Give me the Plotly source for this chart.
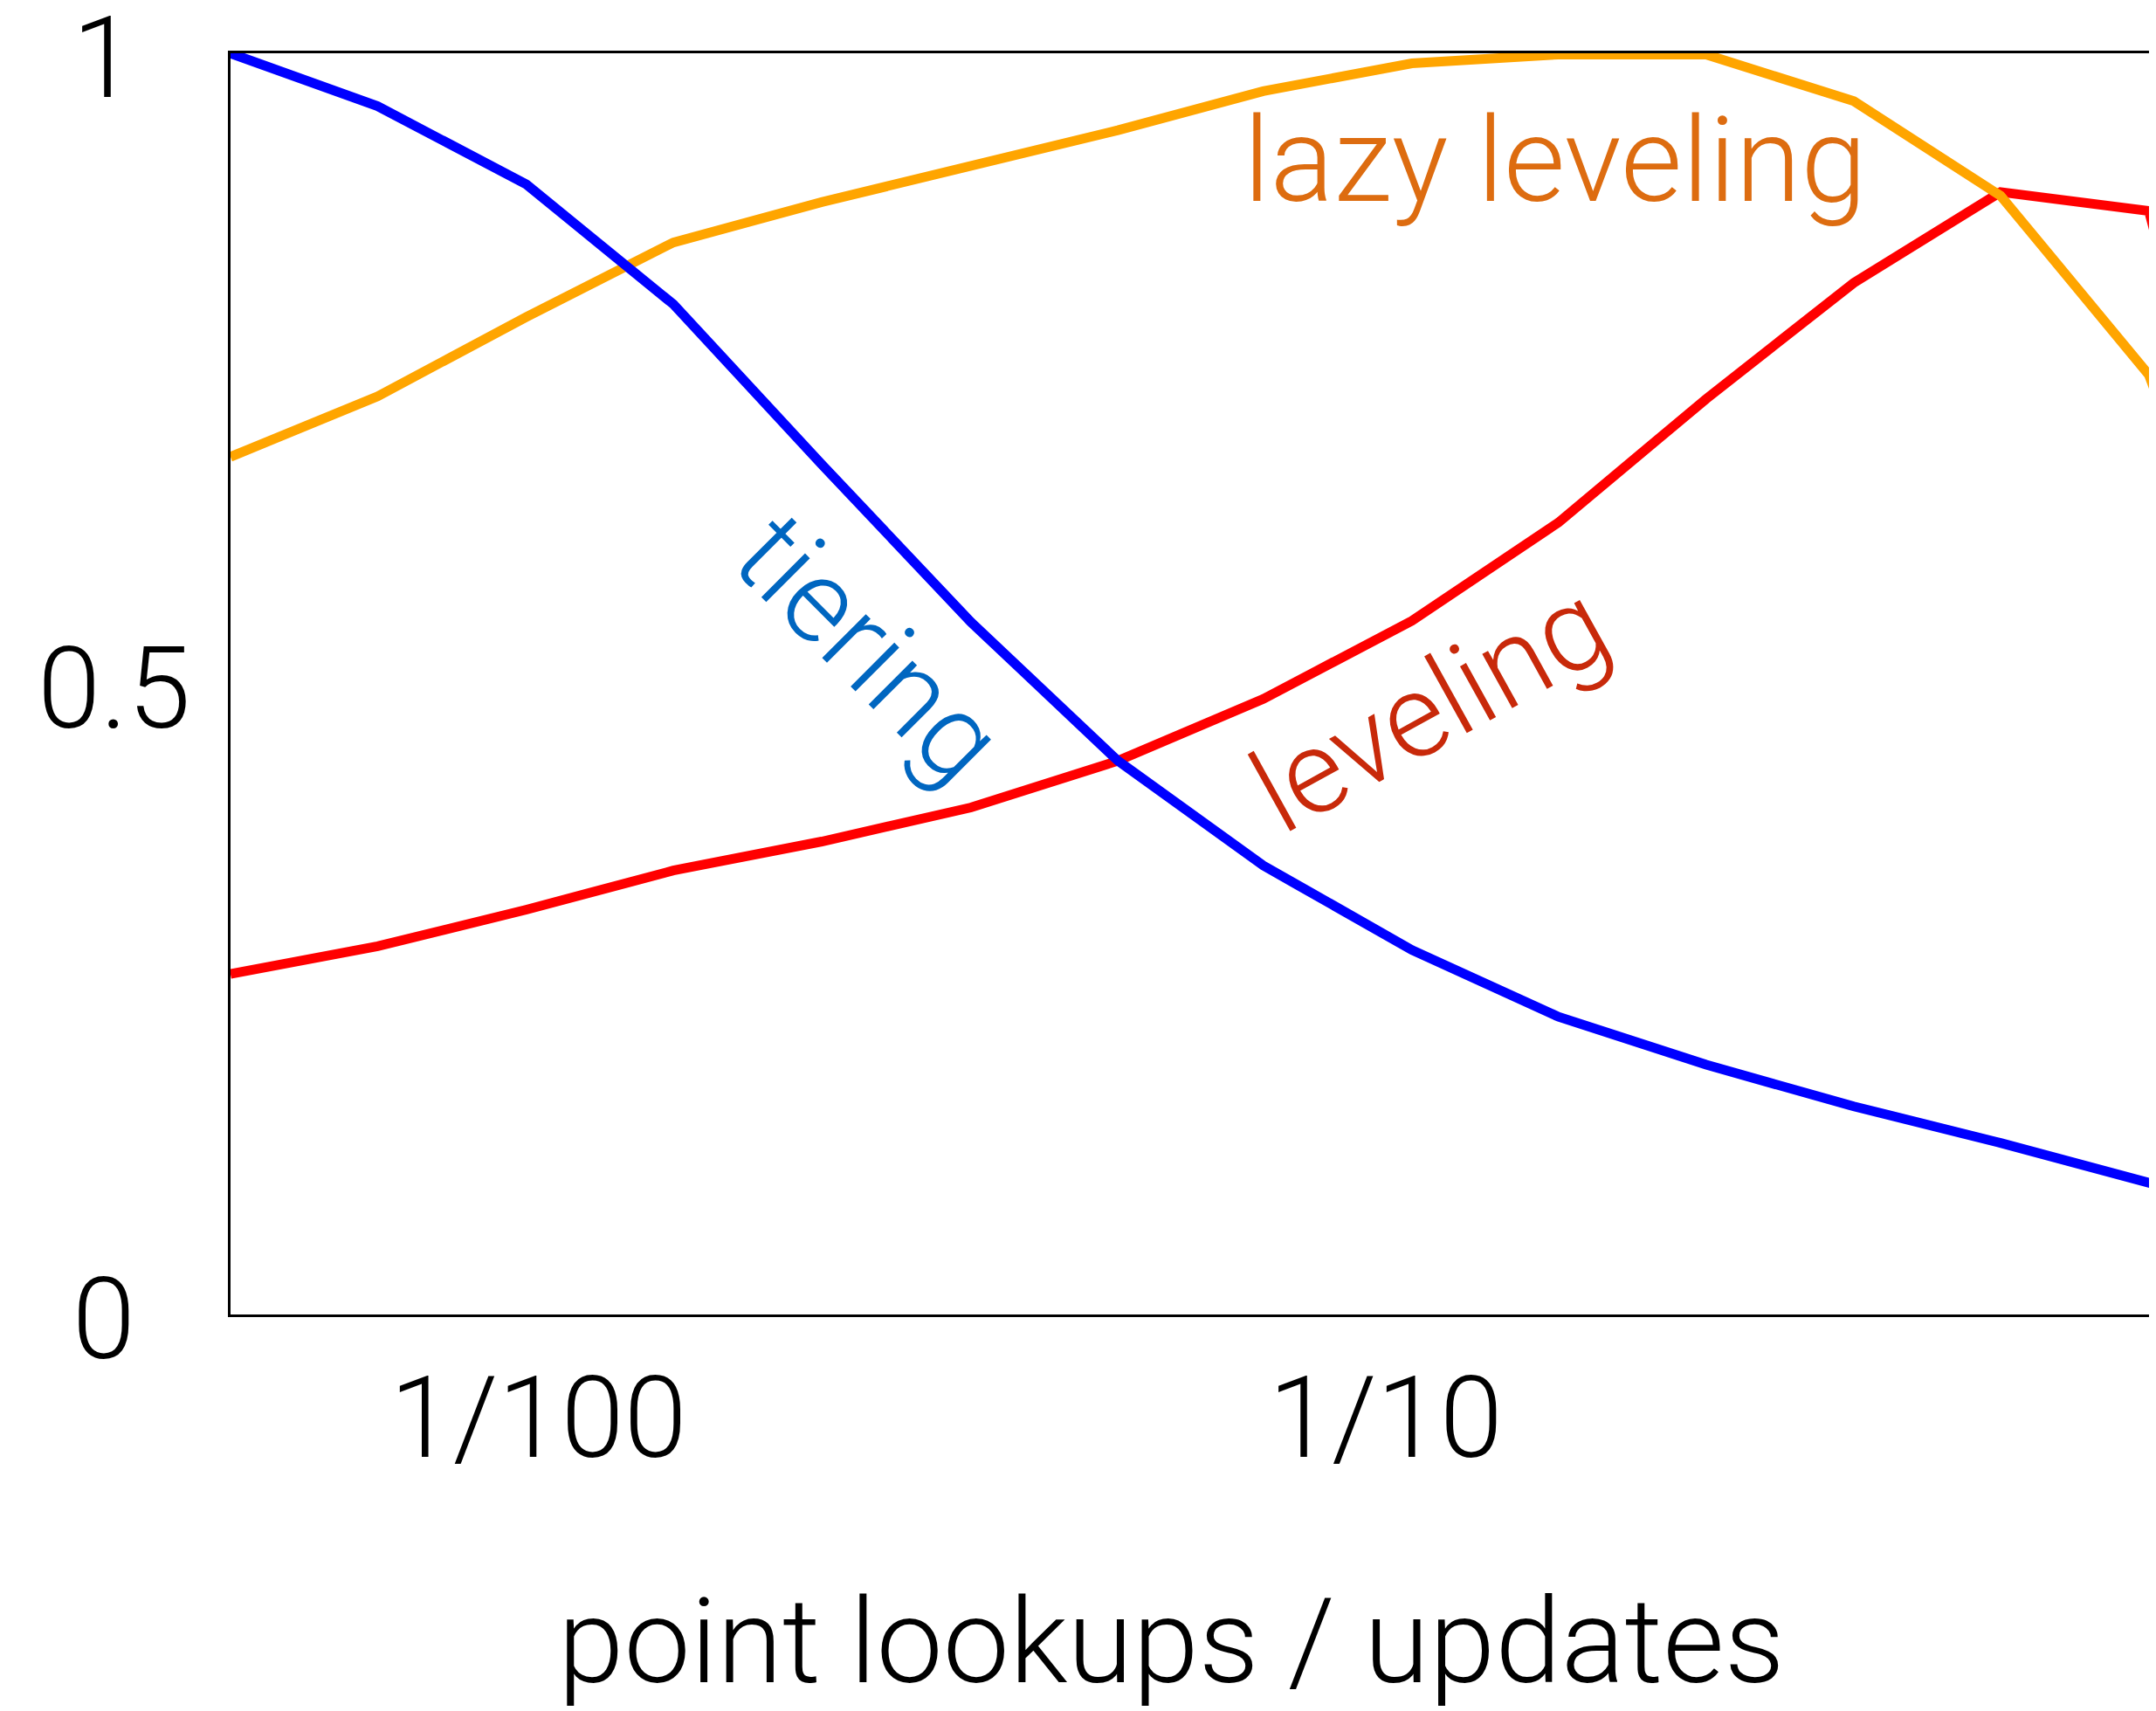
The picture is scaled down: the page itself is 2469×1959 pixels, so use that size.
import plotly.graph_objects as go

# x positions (point lookups / updates ratio), log scale
x_vals = [0.00433, 0.00646, 0.00968, 0.01443, 0.0216, 0.0324, 0.0483,
          0.0717, 0.1074, 0.160, 0.239, 0.357, 0.532, 0.796, 1.19]

tiering = [1.0, 0.958, 0.896, 0.801, 0.674, 0.549, 0.439,
           0.356, 0.289, 0.236, 0.198, 0.165, 0.136, 0.104, 0.073]
leveling = [0.270, 0.292, 0.321, 0.352, 0.375, 0.402, 0.439,
            0.488, 0.550, 0.628, 0.726, 0.818, 0.890, 0.875, 0.43]
lazy_leveling = [0.680, 0.728, 0.791, 0.850, 0.882, 0.910, 0.939,
                 0.970, 0.992, 0.999, 0.999, 0.962, 0.887, 0.745, 0.43]

x_tickvals = [0.01, 0.1]
x_ticktext = ["1/100", "1/10"]
y_tickvals = [0, 0.5, 1]
y_ticktext = ["0\u00a0\u00a0", "0.5", "1\u00a0\u00a0"]
x_title = "point lookups / updates"

FONT = "Roboto, Liberation Sans, Arial, sans-serif"

fig = go.Figure()
fig.add_trace(go.Scatter(x=x_vals, y=leveling, mode="lines",
                         line=dict(color="#FF0000", width=11), showlegend=False))
fig.add_trace(go.Scatter(x=x_vals, y=lazy_leveling, mode="lines",
                         line=dict(color="#FFA500", width=11), showlegend=False))
fig.add_trace(go.Scatter(x=x_vals, y=tiering, mode="lines",
                         line=dict(color="#0000FF", width=11), showlegend=False))

fig.add_annotation(text="tiering", x=-1.61, y=0.528, xref="x", yref="y",
                   showarrow=False, textangle=45,
                   font=dict(family=FONT, size=134, color="#0066C0", weight=300))
fig.add_annotation(text="leveling", x=-0.947, y=0.481, xref="x", yref="y",
                   showarrow=False, textangle=-29,
                   font=dict(family=FONT, size=134, color="#C8290A", weight=300))
fig.add_annotation(text="lazy leveling", x=-0.80, y=0.915, xref="x", yref="y",
                   showarrow=False, textangle=0,
                   font=dict(family=FONT, size=136, color="#DD6C10", weight=300))
# x-axis title (placed slightly left of the plot-area centre, as in the reference)
fig.add_annotation(text=x_title, x=0.4887, y=-0.2595, xref="paper", yref="paper",
                   xanchor="center", yanchor="middle", showarrow=False,
                   font=dict(family=FONT, size=136, color="black", weight=300))

fig.update_layout(
    width=2461, height=1951,
    margin=dict(l=256, r=0, t=53, b=454, autoexpand=False),
    paper_bgcolor="white", plot_bgcolor="white",
    font=dict(family=FONT, size=130, color="black", weight=300),
    xaxis=dict(type="log", range=[-2.3634, -0.0907], showgrid=False, zeroline=False,
               showline=True, linecolor="black", linewidth=2.5, mirror=True,
               ticks="", tickvals=x_tickvals, ticktext=x_ticktext,
               ticklabelstandoff=4, ticklabeloverflow="allow", automargin=False),
    yaxis=dict(range=[0, 1], showgrid=False, zeroline=False,
               showline=True, linecolor="black", linewidth=2.5, mirror=False,
               ticks="", tickvals=y_tickvals, ticktext=y_ticktext,
               ticklabelstandoff=17, ticklabelshift=4,
               ticklabeloverflow="allow", automargin=False),
)

fig.write_html("out.html")
